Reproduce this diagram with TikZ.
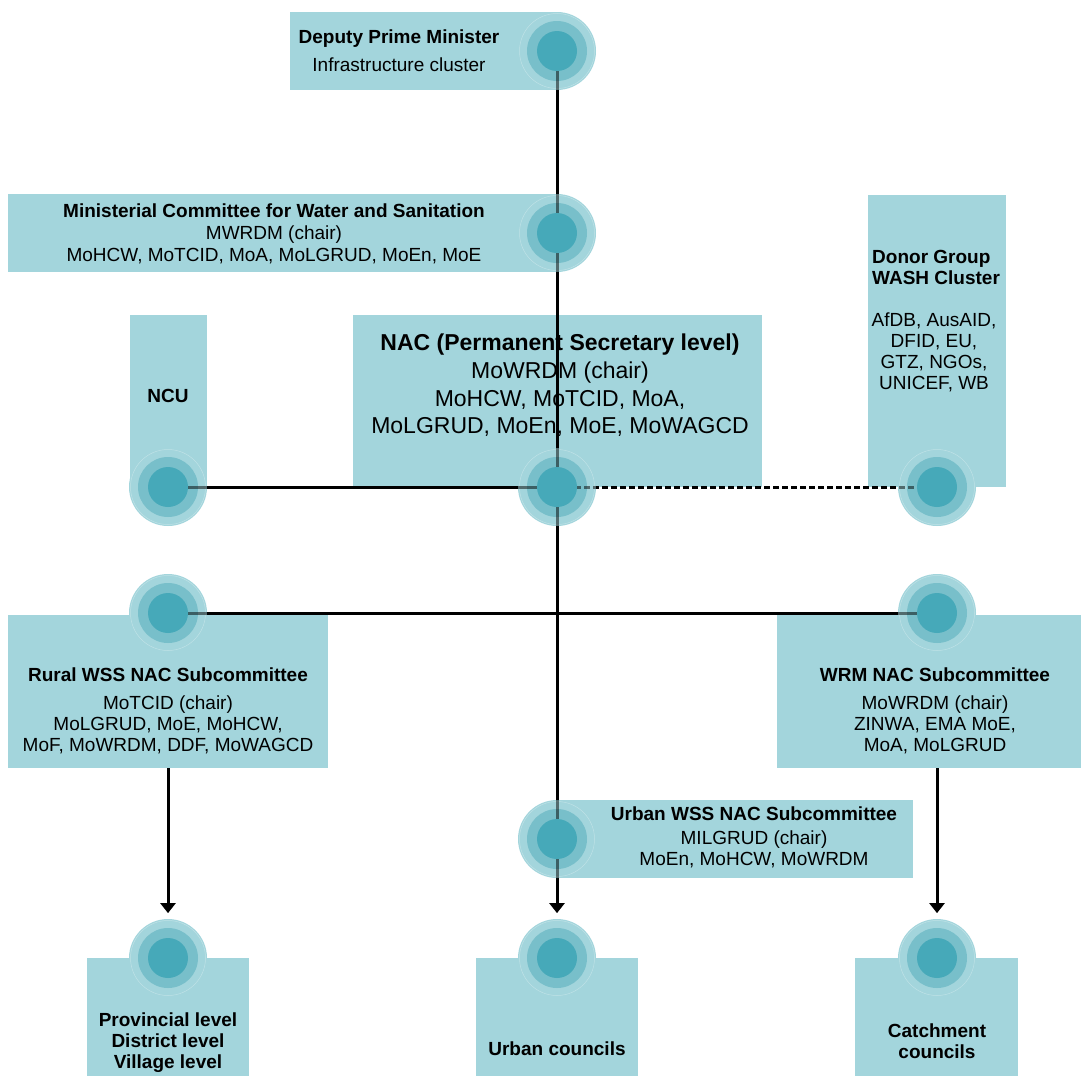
\documentclass[tikz,border=0pt]{standalone}
\usepackage{fontspec}
\setmainfont{Liberation Sans}
\usetikzlibrary{arrows.meta}
\definecolor{boxc}{HTML}{A3D5DC}
\definecolor{ringc}{HTML}{78BFCA}
\definecolor{corec}{HTML}{46A9B9}
\pgfdeclarelayer{bg}
\pgfdeclarelayer{lines}
\pgfsetlayers{bg,lines,main}
\tikzset{
  box/.style={rectangle, fill=boxc, draw=none, inner sep=0pt, outer sep=0pt},
  hub/.style={circle, fill=boxc, minimum size=78pt, inner sep=0pt, outer sep=0pt,
    path picture={
      \fill[ringc] (path picture bounding box.center) circle (30pt);
      \draw[white, opacity=.3, line width=.5pt] (path picture bounding box.center) circle (37.5pt);
    }},
  core/.style={circle, fill=corec, minimum size=40pt, inner sep=0pt, outer sep=0pt},
  lab/.style={anchor=base, inner sep=0pt, font=\fontsize{19}{21}\selectfont},
  hd/.style={lab, font=\fontsize{19}{21}\selectfont\bfseries},
  nlab/.style={lab, font=\fontsize{23}{28}\selectfont},
  nhd/.style={lab, font=\fontsize{23}{28}\selectfont\bfseries},
  link/.style={line width=3pt, black},
  arr/.style={link, -{Triangle[width=15pt,length=10pt]}, shorten >=6pt},
}
\newcommand\drawlinks[1]{%
  \draw[link,#1] (dpmhub.center) -- (minhub.center) -- (nachub.center);
  \draw[link,#1] (ncuhub.center) -- (nachub.center);
  \draw[link,#1, dash pattern=on 5.5pt off 3.5pt] (nachub.center) -- (donhub.center);
  \draw[link,#1] (rurhub.center) -- (wrmhub.center);
  \draw[arr,#1] (nachub.center) -- (uchub.north);
  \draw[arr,#1] (rurbox.south) -- (prvhub.north);
  \draw[arr,#1] (cthub.north |- wrmbox.south) -- (cthub.north);
}
\begin{document}
\begin{tikzpicture}[x=1pt,y=-1pt]
\useasboundingbox (0,0) rectangle (1083,1076);
% boxes
\begin{pgfonlayer}{bg}
\node[box, minimum width=267pt, minimum height=78pt]  (dpmbox) at (423.5,51) {};
\node[box, minimum width=549pt, minimum height=78pt]  (minbox) at (282.5,233) {};
\node[box, minimum width=77pt,  minimum height=172pt] (ncubox) at (168.5,401) {};
\node[box, minimum width=409pt, minimum height=172pt] (nacbox) at (557.5,401) {};
\node[box, minimum width=138pt, minimum height=292pt] (donbox) at (937,341) {};
\node[box, minimum width=320pt, minimum height=153pt] (rurbox) at (168,691.5) {};
\node[box, minimum width=304pt, minimum height=153pt] (wrmbox) at (929,691.5) {};
\node[box, minimum width=356pt, minimum height=78pt]  (uwbox)  at (735,839) {};
\node[box, minimum width=162pt, minimum height=118pt] (prvbox) at (168,1017) {};
\node[box, minimum width=162pt, minimum height=118pt] (ucbox)  at (557,1017) {};
\node[box, minimum width=163pt, minimum height=118pt] (ctbox)  at (936.5,1017) {};
\end{pgfonlayer}
% hubs
\node[hub] (dpmhub) at (557,51) {};
\node[hub] (minhub) at (557,233) {};
\node[hub] (ncuhub) at (168,487) {};
\node[hub] (nachub) at (557,487) {};
\node[hub] (donhub) at (937,487) {};
\node[hub] (rurhub) at (168,613) {};
\node[hub] (wrmhub) at (937,613) {};
\node[hub] (uwhub)  at (557,839) {};
\node[hub] (prvhub) at (168,958) {};
\node[hub] (uchub)  at (557,958) {};
\node[hub] (cthub)  at (937,958) {};
% connectors: full black under the hubs, half seen through them
\begin{pgfonlayer}{lines}
\drawlinks{}
\end{pgfonlayer}
\drawlinks{opacity=.5}
% cores
\foreach \h in {dpmhub,minhub,ncuhub,nachub,donhub,rurhub,wrmhub,uwhub,prvhub,uchub,cthub}
  \node[core] (\h-core) at (\h.center) {};
% texts
\node[hd]  (dpm1) at (399,43.5) {Deputy Prime Minister};
\node[lab] (dpm2) at (399,71.5) {Infrastructure cluster};
\node[hd]  (min1) at (274,217.5) {Ministerial Committee for Water and Sanitation};
\node[lab] (min2) at (274,239.5) {MWRDM (chair)};
\node[lab] (min3) at (274,261.5) {MoHCW, MoTCID, MoA, MoLGRUD, MoEn, MoE};
\node[hd]  (ncu1) at (168,402.5) {NCU};
\node[nhd] (nac1) at (560,350) {NAC (Permanent Secretary level)};
\node[nlab] (nac2) at (560,378) {MoWRDM (chair)};
\node[nlab] (nac3) at (560,406) {MoHCW, MoTCID, MoA,};
\node[nlab] (nac4) at (560,433) {MoLGRUD, MoEn, MoE, MoWAGCD};
\node[hd, anchor=base west] (don1) at (872,263.5) {Donor Group};
\node[hd, anchor=base west] (don2) at (872,284.5) {WASH Cluster};
\node[lab] (don3) at (934,326.5) {AfDB, AusAID,};
\node[lab] (don4) at (934,347.5) {DFID, EU,};
\node[lab] (don5) at (934,368.5) {GTZ, NGOs,};
\node[lab] (don6) at (934,389.5) {UNICEF, WB};
\node[hd]  (rur1) at (168,681.5) {Rural WSS NAC Subcommittee};
\node[lab] (rur2) at (168,709.5) {MoTCID (chair)};
\node[lab] (rur3) at (168,730.5) {MoLGRUD, MoE, MoHCW,};
\node[lab] (rur4) at (168,751.5) {MoF, MoWRDM, DDF, MoWAGCD};
\node[hd]  (wrm1) at (935,681.5) {WRM NAC Subcommittee};
\node[lab] (wrm2) at (935,709.5) {MoWRDM (chair)};
\node[lab] (wrm3) at (935,730.5) {ZINWA, EMA MoE,};
\node[lab] (wrm4) at (935,751.5) {MoA, MoLGRUD};
\node[hd]  (uw1) at (754,820.5) {Urban WSS NAC Subcommittee};
\node[lab] (uw2) at (754,844.5) {MILGRUD (chair)};
\node[lab] (uw3) at (754,865.5) {MoEn, MoHCW, MoWRDM};
\node[hd]  (prv1) at (168,1026.5) {Provincial level};
\node[hd]  (prv2) at (168,1047.5) {District level};
\node[hd]  (prv3) at (168,1068.5) {Village level};
\node[hd]  (uc1)  at (557,1055.5) {Urban councils};
\node[hd]  (ct1)  at (937,1037.5) {Catchment};
\node[hd]  (ct2)  at (937,1058.5) {councils};
\end{tikzpicture}
\end{document}
